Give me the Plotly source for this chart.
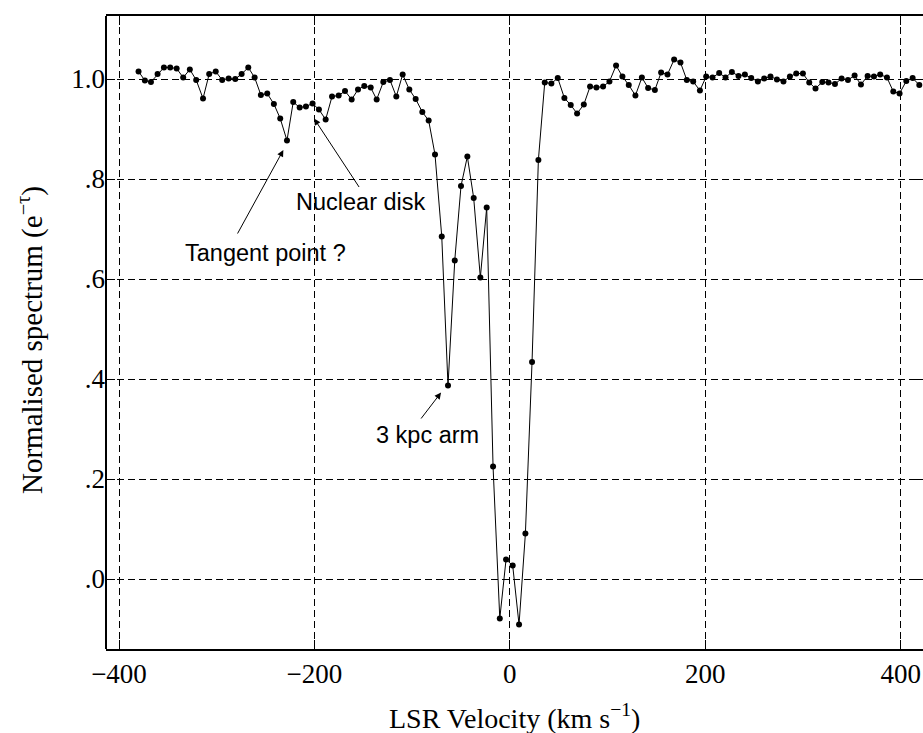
import plotly.graph_objects as go

# LSR velocity channels (km/s) and normalised absorption spectrum e^-tau
velocity = [
    -380.0, -373.5, -367.3, -360.5, -354.0, -347.6, -341.0, -334.3, -327.5, -321.0,
    -314.0, -307.7, -301.0, -294.4, -287.8, -281.0, -274.5, -267.7, -261.2, -254.8,
    -248.3, -241.5, -235.0, -228.1, -221.7, -215.1, -208.7, -201.9, -195.4, -188.5,
    -182.0, -175.2, -168.7, -161.9, -155.4, -149.0, -142.4, -136.3, -129.5, -122.7,
    -116.2, -109.7, -102.9, -96.4, -89.6, -83.1, -76.6, -69.7, -63.3, -56.4,
    -50.0, -43.5, -37.0, -30.2, -23.7, -17.2, -10.3, -3.9, 2.9, 9.4,
    15.9, 22.7, 29.2, 35.7, 42.5, 49.0, 55.8, 62.3, 68.8, 75.7,
    82.1, 88.6, 95.4, 101.9, 108.7, 115.2, 121.7, 128.5, 135.1, 141.5,
    148.4, 154.8, 161.3, 168.1, 174.6, 181.1, 187.6, 194.5, 200.9, 207.4,
    214.2, 220.7, 227.2, 234.0, 240.5, 247.0, 253.8, 260.3, 266.7, 273.3,
    280.0, 286.6, 293.1, 299.9, 306.4, 312.8, 319.7, 326.1, 332.7, 339.5,
    346.0, 352.8, 359.3, 366.1, 372.6, 379.0, 385.9, 392.4, 398.8, 405.7,
    412.2, 419.0,
]
spectrum = [
    1.015, 0.997, 0.994, 1.010, 1.023, 1.023, 1.021, 1.003, 1.019, 0.998,
    0.961, 1.010, 1.015, 0.998, 1.001, 1.000, 1.010, 1.023, 1.003, 0.968,
    0.971, 0.950, 0.921, 0.877, 0.954, 0.943, 0.945, 0.951, 0.939, 0.919,
    0.965, 0.967, 0.976, 0.959, 0.979, 0.986, 0.983, 0.959, 0.994, 0.998,
    0.965, 1.009, 0.979, 0.960, 0.934, 0.917, 0.849, 0.685, 0.387, 0.637,
    0.786, 0.845, 0.762, 0.603, 0.743, 0.225, -0.079, 0.039, 0.027, -0.091,
    0.091, 0.434, 0.838, 0.993, 0.991, 1.002, 0.962, 0.948, 0.931, 0.949,
    0.985, 0.983, 0.985, 0.995, 1.027, 1.005, 0.988, 0.967, 1.003, 0.982,
    0.978, 1.013, 1.009, 1.039, 1.033, 0.998, 0.995, 0.977, 1.005, 1.003,
    1.012, 1.003, 1.014, 1.006, 1.009, 1.002, 0.995, 1.001, 1.005, 0.999,
    0.995, 1.005, 1.011, 1.011, 0.993, 0.981, 0.994, 0.993, 0.990, 1.001,
    0.998, 1.007, 0.989, 1.006, 1.005, 1.009, 1.003, 0.975, 0.971, 0.996,
    1.002, 0.988,
]

x_ticks = [-400, -200, 0, 200, 400]
x_tick_labels = ["\u2212400", "\u2212200", "0", "200", "400"]
y_ticks = [0.0, 0.2, 0.4, 0.6, 0.8, 1.0]
y_tick_labels = [".0", ".2", ".4", ".6", ".8", "1.0"]

# feature labels: (text, text x, text y, arrow tail x, tail y, head x, head y)
features = [
    ("Tangent point ?", -250.0, 0.652, -279.5, 0.688, -231.8, 0.858),
    ("Nuclear disk", -152.3, 0.755, -153.3, 0.781, -200.4, 0.921),
    ("3 kpc arm", -84.7, 0.288, -92.0, 0.318, -70.4, 0.373),
]

SERIF = "Liberation Serif, Times New Roman, serif"
SANS = "Liberation Sans, Arial, sans-serif"

fig = go.Figure()
fig.add_trace(go.Scatter(
    x=velocity, y=spectrum, mode="lines+markers",
    line=dict(color="black", width=1),
    marker=dict(color="black", size=6),
    showlegend=False, cliponaxis=False,
))

annotations = []
for text, tx, ty, ax_, ay_, hx, hy in features:
    annotations.append(dict(
        x=hx, y=hy, ax=ax_, ay=ay_, xref="x", yref="y", axref="x", ayref="y",
        text="", showarrow=True, arrowhead=2, arrowsize=1.3, arrowwidth=1,
        arrowcolor="black",
    ))
    annotations.append(dict(
        x=tx, y=ty, xref="x", yref="y", text=text, showarrow=False,
        font=dict(family=SANS, size=23.5, color="black"),
        xanchor="center", yanchor="middle",
    ))

# axis titles
annotations.append(dict(
    x=0.5, y=0, xref="paper", yref="paper", yanchor="middle", xanchor="center",
    yshift=-67, showarrow=False,
    text="LSR Velocity (km s<sup>\u22121</sup>)",
    font=dict(family=SERIF, size=28, color="black"),
))
annotations.append(dict(
    x=0, y=0, xref="paper", yref="paper", xanchor="center", yanchor="middle",
    xshift=-76, yshift=649 - 340, showarrow=False, textangle=-90,
    text="Normalised spectrum (e<sup>\u2212\u03c4</sup>)",
    font=dict(family=SERIF, size=29, color="black"),
))

# left frame edge
shapes = [dict(type="line", xref="paper", yref="paper", x0=0, x1=0, y0=0, y1=1,
               line=dict(color="black", width=2))]

fig.update_layout(
    width=923, height=733,
    margin=dict(l=106, r=0, t=16, b=84),
    paper_bgcolor="white", plot_bgcolor="white",
    annotations=annotations, shapes=shapes,
    xaxis=dict(
        range=[-413.3, 422.8], tickvals=x_ticks, ticktext=x_tick_labels,
        showgrid=True, gridcolor="black", gridwidth=1, griddash="7px,4px",
        zeroline=False, showline=True, linecolor="black", linewidth=2,
        mirror="ticks", ticks="inside", ticklen=9, tickwidth=1, tickcolor="black",
        tickfont=dict(family=SERIF, size=27, color="black"),
    ),
    yaxis=dict(
        range=[-0.14, 1.126], tickvals=y_ticks, ticktext=y_tick_labels,
        showgrid=True, gridcolor="black", gridwidth=1, griddash="7px,4px",
        zeroline=False, showline=False,
        mirror="ticks", ticks="inside", ticklen=9, tickwidth=1, tickcolor="black",
        tickfont=dict(family=SERIF, size=27, color="black"),
    ),
)

fig.write_html("out.html")
